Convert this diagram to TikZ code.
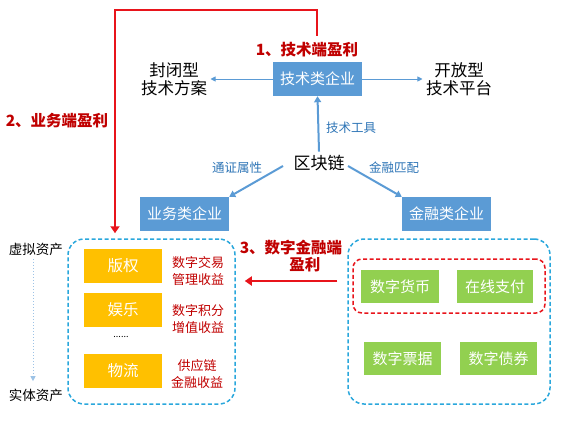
\documentclass[tikz,border=0pt]{standalone}
\usepackage{fontspec}
\setmainfont{Noto Sans CJK SC}
\usetikzlibrary{arrows.meta,calc}
\definecolor{boxblue}{HTML}{5B9BD5}
\definecolor{boxorange}{HTML}{FFC000}
\definecolor{boxgreen}{HTML}{92D050}
\definecolor{darkred}{HTML}{C00000}
\definecolor{linered}{HTML}{E8141B}
\definecolor{dashblue}{HTML}{2AA7DC}
\definecolor{labelblue}{HTML}{2E75B6}
\tikzset{
  bluebox/.style={fill=boxblue, text=white, minimum width=89pt, minimum height=34pt, inner sep=0pt, font=\fontsize{15}{18}\selectfont},
  orangebox/.style={fill=boxorange, text=white, minimum width=78pt, minimum height=34pt, inner sep=0pt, font=\fontsize{15.5}{18}\selectfont},
  greenbox/.style={fill=boxgreen, text=white, minimum width=77pt, minimum height=33pt, inner sep=0pt, font=\fontsize{15}{18}\selectfont},
  redtxt/.style={text=darkred, align=center, font=\fontsize{13}{17}\selectfont},
  redlabel/.style={text=darkred, align=center, font=\bfseries\fontsize{15.5}{17}\selectfont},
  bluelabel/.style={text=labelblue, font=\fontsize{12.5}{15}\selectfont},
  sidetxt/.style={align=center, font=\fontsize{16.5}{18}\selectfont},
  thinarrow/.style={draw=boxblue, line width=0.8pt, -{Triangle[width=5pt,length=5pt]}},
  thickarrow/.style={draw=boxblue, line width=2pt, -{Triangle[width=7pt,length=6pt]}},
  redarrow/.style={draw=linered, line width=2.5pt, -{Triangle[width=9pt,length=7pt]}},
  dashbox/.style={draw=dashblue, line width=1.5pt, dash pattern=on 4pt off 2.5pt, rounded corners=16pt},
  reddash/.style={draw=linered, line width=1.5pt, dash pattern=on 4pt off 2.5pt, rounded corners=9pt}
}
\begin{document}
\begin{tikzpicture}[x=1pt,y=-1pt]
\useasboundingbox (0,0) rectangle (564,425);
% top boxes
\node[bluebox] (tech) at (317.5,79) {技术类企业};
\node[bluebox] (biz) at (184.5,214) {业务类企业};
\node[bluebox] (fin) at (446.5,214) {金融类企业};
\node[sidetxt] (closed) at (174,79) {封闭型\\技术方案};
\node[sidetxt] (open) at (459,79) {开放型\\技术平台};
\node[font=\fontsize{17}{20}\selectfont] (chain) at (319,163) {区块链};
\node[bluelabel] (ttool) at (351,128) {技术工具};
\node[bluelabel] (token) at (237,168) {通证属性};
\node[bluelabel] (match) at (394,168) {金融匹配};
\draw[thinarrow] (tech.west) -- (closed.east);
\draw[thinarrow] (tech.east) -- (open.west);
\draw[thickarrow] (chain.north) -- (tech.south);
\coordinate (cl) at (283,166);
\coordinate (cr) at (348,166);
\draw[thickarrow] (cl) -- (biz.north east);
\draw[thickarrow] (cr) -- (fin.north west);
% dashed groups
\node[dashbox, minimum width=167pt, minimum height=165pt, inner sep=0pt] (lgroup) at (151.5,321.5) {};
\node[dashbox, minimum width=202pt, minimum height=165pt, inner sep=0pt] (rgroup) at (449,321.5) {};
\node[reddash, minimum width=192pt, minimum height=54pt, inner sep=0pt] (rsub) at (449,286) {};
% left group content
\node[orangebox] (copy) at (123,266) {版权};
\node[orangebox] (ent) at (123,309.5) {娱乐};
\node[font=\fontsize{9}{10}\selectfont] (dots) at (121,337) {......};
\node[orangebox] (logi) at (123,371) {物流};
\node[redtxt] (r1) at (198,271.5) {数字交易\\管理收益};
\node[redtxt] (r2) at (198,319) {数字积分\\增值收益};
\node[redtxt] (r3) at (197,374) {供应链\\金融收益};
% right group content
\node[greenbox, minimum width=78pt] (cur) at (400,286.5) {数字货币};
\node[greenbox, minimum width=76pt] (pay) at (495,286.5) {在线支付};
\node[greenbox] (bill) at (402.5,358.5) {数字票据};
\node[greenbox] (bond) at (498.5,358.5) {数字债券};
% asset axis
\node[font=\fontsize{13.5}{16}\selectfont] (virt) at (36,249) {虚拟资产};
\node[font=\fontsize{13.5}{16}\selectfont] (real) at (36,395) {实体资产};
\draw[draw=boxblue!60, line width=1pt, dotted, -{Triangle[width=5pt,length=5pt]}] ($(virt.south)+(-3,0)$) -- ($(real.north)+(-3,-4)$);
% profit labels and red connectors
\node[redlabel] (l1) at (307,50) {1、技术端盈利};
\node[redlabel] (l2) at (57,121) {2、业务端盈利};
\node[redlabel] (l3) at (291,256.5) {3、数字金融端\\\hspace*{1.8em}盈利};
\coordinate (rstart) at (317,36);
\coordinate (rtop) at (115,10);
\draw[redarrow, shorten >=5pt] (rstart) |- (rtop) -- (rtop |- lgroup.north);
\draw[redarrow, shorten <=10pt, shorten >=9pt] (rgroup.west |- 0,281) -- (lgroup.east |- 0,281);
\end{tikzpicture}
\end{document}
